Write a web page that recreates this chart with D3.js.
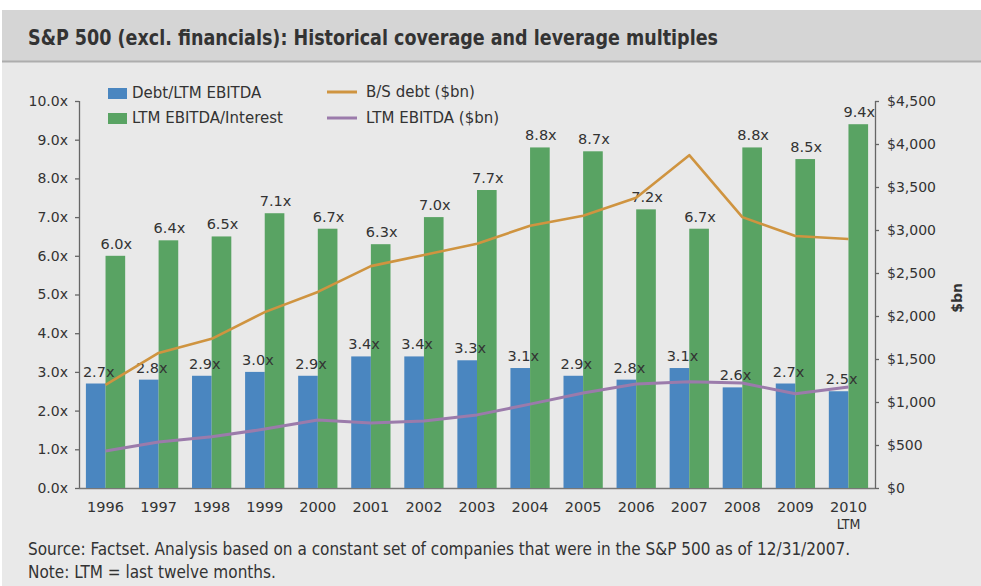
<!DOCTYPE html>
<html>
<head>
<meta charset="utf-8">
<script src="https://cdn.jsdelivr.net/npm/d3@7"></script>
<style>
  body { margin: 0; background: #fff; }
  svg text { fill: #333; }
</style>
</head>
<body>
<script>
'use strict';

// chart data
const years = ["1996", "1997", "1998", "1999", "2000", "2001", "2002", "2003",
  "2004", "2005", "2006", "2007", "2008", "2009", "2010"];
const debtToEbitda = [2.7, 2.8, 2.9, 3.0, 2.9, 3.4, 3.4, 3.3, 3.1, 2.9, 2.8, 3.1, 2.6, 2.7, 2.5];
const ebitdaToInterest = [6.0, 6.4, 6.5, 7.1, 6.7, 6.3, 7.0, 7.7, 8.8, 8.7, 7.2, 6.7, 8.8, 8.5, 9.4];
const bsDebt = [1200, 1570, 1735, 2045, 2280, 2580, 2710, 2840, 3050, 3165, 3375, 3870, 3150, 2930, 2895];
const ltmEbitda = [430, 535, 595, 685, 790, 755, 780, 850, 975, 1105, 1210, 1235, 1220, 1095, 1175];
const leftTicks = [0, 1, 2, 3, 4, 5, 6, 7, 8, 9, 10];
const rightTicks = [0, 500, 1000, 1500, 2000, 2500, 3000, 3500, 4000, 4500];

(function() {
  const W = 981, H = 586;
  const colors = { blue: "#4a86c0", green: "#59a363", orange: "#cf9440", purple: "#9b7bab" };
  const numFont = "'DejaVu Sans', Verdana, sans-serif";
  const narrowFont = "'Liberation Sans Narrow', 'DejaVu Sans Condensed', sans-serif";

  const svg = d3.select("body").append("svg")
    .attr("width", W)
    .attr("height", H);

  // backgrounds
  svg.append("rect").attr("x", 2).attr("y", 62).attr("width", W - 2).attr("height", H - 62).attr("fill", "#e9e9e9");
  svg.append("rect").attr("x", 2).attr("y", 10).attr("width", W - 2).attr("height", 51).attr("fill", "#d5d5d5");
  svg.append("line").attr("x1", 2).attr("x2", W).attr("y1", 61.5).attr("y2", 61.5)
    .attr("stroke", "#adadad").attr("stroke-width", 2);

  // title, squeezed to the narrow width of the original face
  svg.append("text")
    .attr("x", 28).attr("y", 45)
    .attr("textLength", 690)
    .attr("lengthAdjust", "spacingAndGlyphs")
    .style("font-family", narrowFont)
    .style("font-weight", "bold")
    .style("font-size", "22px")
    .text("S&P 500 (excl. financials): Historical coverage and leverage multiples");

  // scales
  const pLeft = 79, pRight = 875, pTop = 101, pBottom = 488;
  const x0 = d3.scaleBand().domain(years).range([pLeft, pRight]).paddingInner(0.26).paddingOuter(0.13);
  const x1 = d3.scaleBand().domain(["debt", "int"]).range([0, x0.bandwidth()]);
  const yL = d3.scaleLinear().domain([0, 10]).range([pBottom, pTop]);
  const yR = d3.scaleLinear().domain([0, 4500]).range([pBottom, pTop]);

  // axes
  const leftAxis = d3.axisLeft(yL).tickValues(leftTicks).tickSize(4).tickFormat(d => d3.format(".1f")(d) + "x");
  const gl = svg.append("g").attr("transform", `translate(${pLeft},0)`).call(leftAxis);
  gl.select(".domain").attr("d", `M0.5,${pTop}V${pBottom}`);

  const rightAxis = d3.axisRight(yR).tickValues(rightTicks).tickSize(4).tickPadding(8)
    .tickFormat(d => "$" + d3.format(",")(d));
  const gr = svg.append("g").attr("transform", `translate(${pRight},0)`).call(rightAxis);
  gr.select(".domain").attr("d", `M0.5,${pTop}V${pBottom}`);

  [gl, gr].forEach(g => {
    g.selectAll(".domain, .tick line").attr("stroke", "#666").attr("stroke-width", 1.3);
    g.selectAll("text").style("font-family", numFont).style("font-size", "14px").attr("fill", "#333");
  });
  gl.selectAll("text").attr("dx", "-4px");

  const bottomAxis = d3.axisBottom(x0).tickSize(0).tickPadding(14);
  const gb = svg.append("g").attr("transform", `translate(0,${pBottom})`).call(bottomAxis);
  gb.select(".domain").attr("d", `M${pLeft},0.5H${pRight}`).attr("stroke", "#777").attr("stroke-width", 1.5);
  gb.selectAll("text").style("font-family", numFont).style("font-size", "14.5px").attr("fill", "#333");
  gb.selectAll(".tick").filter(d => d === "2010").append("text")
    .attr("y", 31).attr("dy", "0.71em")
    .attr("fill", "#333")
    .style("font-family", narrowFont)
    .style("font-size", "14px")
    .text("LTM");

  svg.append("text")
    .attr("transform", "translate(962,298) rotate(-90)")
    .attr("text-anchor", "middle")
    .style("font-family", numFont)
    .style("font-weight", "bold")
    .style("font-size", "14px")
    .text("$bn");

  // bars
  const rows = years.map((yr, i) => ({ year: yr, debt: debtToEbitda[i], int: ebitdaToInterest[i] }));
  const groups = svg.append("g").selectAll("g")
    .data(rows)
    .enter().append("g")
    .attr("transform", d => `translate(${x0(d.year)},0)`);

  const keys = [{ key: "debt", color: colors.blue }, { key: "int", color: colors.green }];
  keys.forEach(k => {
    groups.append("rect")
      .attr("x", x1(k.key))
      .attr("width", x1.bandwidth())
      .attr("y", d => yL(d[k.key]))
      .attr("height", d => pBottom - yL(d[k.key]))
      .attr("fill", k.color);
  });

  // lines
  const cx = yr => x0(yr) + x0.bandwidth() / 2;
  const lineR = d3.line().x((d, i) => cx(years[i])).y(d => yR(d));
  svg.append("path").datum(bsDebt).attr("d", lineR)
    .attr("fill", "none").attr("stroke", colors.orange).attr("stroke-width", 2.6).attr("stroke-linejoin", "round");
  svg.append("path").datum(ltmEbitda).attr("d", lineR)
    .attr("fill", "none").attr("stroke", colors.purple).attr("stroke-width", 3).attr("stroke-linejoin", "round");

  // bar labels
  keys.forEach(k => {
    groups.append("text")
      .attr("x", x1(k.key) + x1.bandwidth() / 2 + (k.key === "debt" ? 3 : 1))
      .attr("y", d => yL(d[k.key]) - 7)
      .attr("text-anchor", "middle")
      .style("font-family", numFont)
      .style("font-size", "14.5px")
      .text(d => d3.format(".1f")(d[k.key]) + "x");
  });

  // legend
  const legend = svg.append("g").style("font-family", numFont).style("font-size", "15px");
  const boxes = [
    { label: "Debt/LTM EBITDA", color: colors.blue, y: 88 },
    { label: "LTM EBITDA/Interest", color: colors.green, y: 113 }
  ];
  boxes.forEach(b => {
    legend.append("rect").attr("x", 108).attr("y", b.y).attr("width", 19).attr("height", 11).attr("fill", b.color);
    legend.append("text").attr("x", 132).attr("y", b.y + 10).text(b.label);
  });
  const lineKeys = [
    { label: "B/S debt ($bn)", color: colors.orange, y: 92 },
    { label: "LTM EBITDA ($bn)", color: colors.purple, y: 118 }
  ];
  lineKeys.forEach(l => {
    legend.append("line").attr("x1", 327).attr("x2", 357).attr("y1", l.y).attr("y2", l.y)
      .attr("stroke", l.color).attr("stroke-width", 3);
    legend.append("text").attr("x", 366).attr("y", l.y + 5).text(l.label);
  });

  // footnotes
  const notes = [
    "Source: Factset. Analysis based on a constant set of companies that were in the S&P 500 as of 12/31/2007.",
    "Note: LTM = last twelve months."
  ];
  notes.forEach((n, i) => {
    svg.append("text")
      .attr("x", 28).attr("y", 555 + i * 23)
      .style("font-family", narrowFont)
      .style("font-size", "17px")
      .text(n);
  });
})();
</script>
</body>
</html>
